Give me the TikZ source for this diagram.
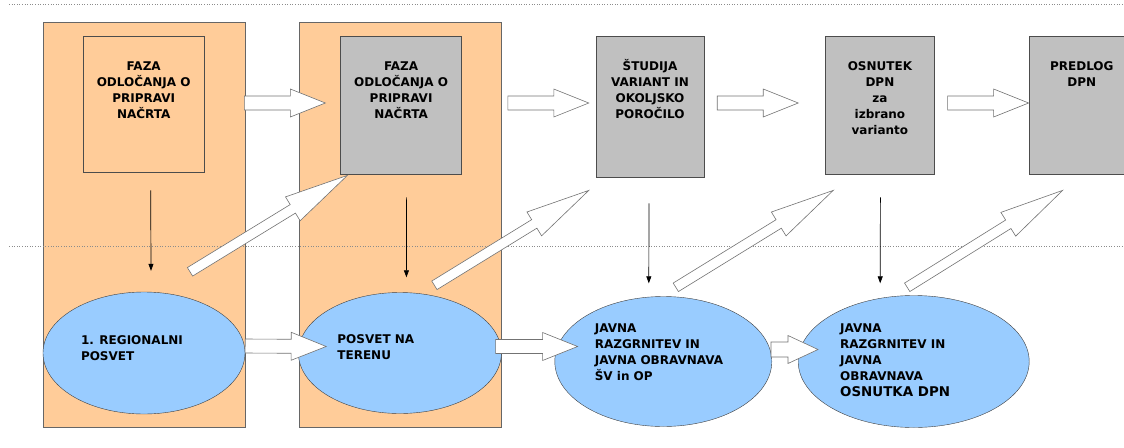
\documentclass[tikz,border=0pt]{standalone}
\usepackage{fontspec}
\setmainfont{DejaVu Sans}
\usetikzlibrary{arrows.meta,calc,positioning,shapes.geometric}

\definecolor{peach}{RGB}{255,204,153}
\definecolor{skyblue}{RGB}{153,204,255}
\definecolor{stepgray}{RGB}{192,192,192}

\tikzset{
  pics/hollow/.style n args={3}{code={%
    \draw[blockarrow] (0pt,-#3) -- ({#1-#2},-#3) -- ({#1-#2},-14pt) -- (#1,0pt)
      -- ({#1-#2},14pt) -- ({#1-#2},#3) -- (0pt,#3) -- cycle;}},
}
% hollow arrow from #1 to #2, head length #3, half shaft #4
\newcommand{\hollowarrow}[4]{%
  \path let \p1=($(#2)-(#1)$), \n1={atan2(\y1,\x1)}, \n2={veclen(\x1,\y1)} in
    (#1) pic[rotate=\n1] {hollow={\n2}{#3}{#4}};}
\newcommand{\boxlines}[3]{\parbox[c][#1][t]{#2}{\centering\vspace*{23pt}\strut#3}}
\newcommand{\elllines}[3]{\parbox[c][#1][t]{#2}{\raggedright\strut#3}}

\begin{document}
\begin{tikzpicture}[x=1pt, y=-1pt,
    every node/.style={font=\bfseries\fontsize{12}{16}\selectfont},
    panel/.style={draw=black!60, fill=peach, minimum width=202pt, minimum height=405pt, anchor=north west},
    stepbox/.style={draw=black!70, fill=stepgray, inner sep=0pt, anchor=north west},
    bubble/.style={ellipse, draw=black!75, fill=skyblue, inner sep=0pt},
    drop/.style={-{Triangle[length=7pt,width=5pt]}, line width=0.7pt},
    guide/.style={dotted, draw=black!45, line width=0.6pt},
    blockarrow/.style={draw=black!55, fill=white, line width=0.6pt}]
  \useasboundingbox (0,0) rectangle (1124,447);

  \node[panel] (col1) at (43,22) {};
  \node[panel] (col2) at (299,22) {};

  % top row
  \node[stepbox, fill=peach] (faza1) at (83,36) {\boxlines{136pt}{121pt}{FAZA\\ODLOČANJA O\\PRIPRAVI\\NAČRTA}};
  \node[stepbox, right=136pt of faza1.north east, anchor=north west] (faza2) {\boxlines{138pt}{121pt}{FAZA\\ODLOČANJA O\\PRIPRAVI\\NAČRTA}};
  \node[stepbox, right=134pt of faza2.north east, anchor=north west] (studija) {\boxlines{141pt}{108pt}{ŠTUDIJA\\VARIANT IN\\OKOLJSKO\\POROČILO}};
  \node[stepbox, right=121pt of studija.north east, anchor=north west] (osnutek) {\boxlines{138pt}{109pt}{OSNUTEK\\DPN\\za\\izbrano\\varianto}};
  \node[stepbox, right=94pt of osnutek.north east, anchor=north west] (predlog) {\boxlines{138pt}{106pt}{PREDLOG\\DPN}};

  % bottom row
  \node[bubble, minimum width=202pt, minimum height=122pt] (ell1) at (144,353) {\elllines{40pt}{126pt}{1. REGIONALNI\\POSVET}};
  \node[bubble, minimum width=203pt, minimum height=121pt, right=53pt of ell1] (ell2) {\elllines{41pt}{125pt}{POSVET NA\\TERENU}};
  \node[bubble, minimum width=217pt, minimum height=130pt, right=53pt of ell2, yshift=-8.5pt] (ell3) {\elllines{80pt}{137pt}{JAVNA\\RAZGRNITEV IN\\JAVNA OBRAVNAVA\\ŠV in OP}};
  \node[bubble, minimum width=231pt, minimum height=132pt, right=26pt of ell3] (ell4) {\elllines{80pt}{147pt}{JAVNA\\RAZGRNITEV IN\\JAVNA\\OBRAVNAVA\\{\fontsize{13.4}{17}\selectfont OSNUTKA DPN}}};

  \draw[guide] (9,4) -- (1124,4);
  \draw[guide] (9,246) -- (1124,246);

  \draw[drop] ([shift={(7,18)}]faza1.south) -- ([shift={(7,-21)}]ell1.north);
  \draw[drop] ([shift={(5.5,23)}]faza2.south) -- ([shift={(6.5,-15)}]ell2.north);
  \draw[drop] ([shift={(-1,26)}]studija.south) -- ([shift={(-14.5,-13)}]ell3.north);
  \draw[drop] ([shift={(0.5,23)}]osnutek.south) -- ([shift={(-33.5,-12)}]ell4.north);

  \coordinate (t1a) at ([shift={(40,67)}]faza1.north east);
  \coordinate (t1b) at ([shift={(-15,67)}]faza2.north west);
  \coordinate (t2a) at ([shift={(46,67)}]faza2.north east);
  \coordinate (t2b) at ([shift={(-7,67)}]studija.north west);
  \coordinate (t3a) at ([shift={(13,67)}]studija.north east);
  \coordinate (t3b) at ([shift={(-27,67)}]osnutek.north west);
  \coordinate (t4a) at ([shift={(13,67)}]osnutek.north east);
  \coordinate (t4b) at ([shift={(0,67)}]predlog.north west);
  \coordinate (b1a) at ([yshift=7pt]ell1.east);
  \coordinate (b1b) at ([shift={(28,-6.5)}]ell2.west);
  \coordinate (b2a) at ([shift={(-6,-6.5)}]ell2.east);
  \coordinate (b2b) at ([shift={(23,-15)}]ell3.west);
  \coordinate (b3a) at ([shift={(-1,-12)}]ell3.east);
  \coordinate (b3b) at ([shift={(20,-12)}]ell4.west);
  \coordinate (d1a) at ([shift={(46,-20)}]ell1.north);
  \coordinate (d1b) at ([shift={(7,1)}]faza2.south west);
  \coordinate (d2a) at ([shift={(34.5,-7)}]ell2.north);
  \coordinate (d2b) at ([shift={(-7,13)}]studija.south west);
  \coordinate (d3a) at ([shift={(12.5,-9)}]ell3.north);
  \coordinate (d3b) at ([shift={(8,16)}]osnutek.south west);
  \coordinate (d4a) at ([shift={(-6.5,-8)}]ell4.north);
  \coordinate (d4b) at ([shift={(34,16)}]predlog.south west);

  \foreach \a/\b in {t1a/t1b, t2a/t2b, t3a/t3b, t4a/t4b, b1a/b1b, b2a/b2b}
    \hollowarrow{\a}{\b}{35pt}{7pt};
  \hollowarrow{b3a}{b3b}{30pt}{7.5pt};
  \foreach \a/\b in {d1a/d1b, d2a/d2b, d3a/d3b, d4a/d4b}
    \hollowarrow{\a}{\b}{64pt}{5pt};
\end{tikzpicture}
\end{document}
